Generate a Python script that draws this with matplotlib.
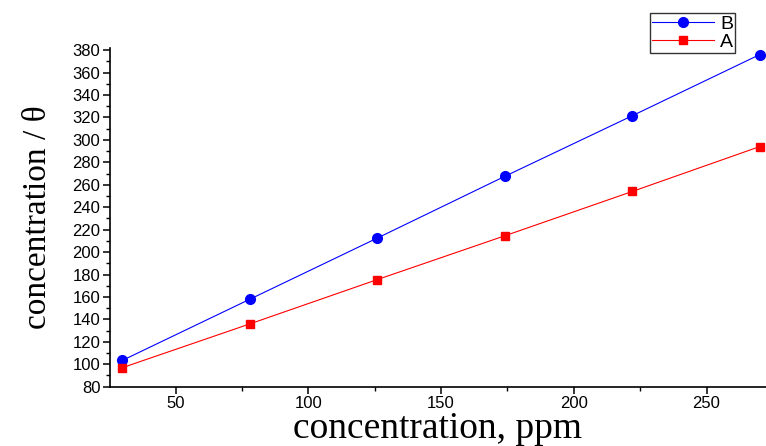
import matplotlib
matplotlib.use("Agg")
import matplotlib.pyplot as plt
from matplotlib.ticker import MultipleLocator

x = [30, 78, 126, 174, 222, 270]
b_vals = [103.5, 158, 212.5, 267.5, 321.5, 376]
a_vals = [97, 136, 175.5, 214.5, 254, 294]

fig = plt.figure(figsize=(7.66, 4.46), dpi=100)
W, H = 766, 446
ax = fig.add_axes([110 / W, 1 - 386.7 / H, (W - 110) / W, (386.7 - 47.9) / H])

ax.plot(x, b_vals, color="#0000FF", lw=0.8, marker="o", ms=7, label="B")
ax.plot(x, a_vals, color="#FF0000", lw=0.8, marker="s", ms=6, label="A")

ax.set_xlim(25.3, 272.4)
ax.set_ylim(80, 382)
ax.xaxis.set_major_locator(MultipleLocator(50))
ax.xaxis.set_minor_locator(MultipleLocator(25))
ax.yaxis.set_major_locator(MultipleLocator(20))
ax.yaxis.set_minor_locator(MultipleLocator(10))

for side in ("top", "right"):
    ax.spines[side].set_visible(False)
for side in ("left", "bottom"):
    ax.spines[side].set_linewidth(1.2)

ax.tick_params(which="major", direction="out", length=5, width=1.1,
               labelsize=12, pad=2)
ax.tick_params(which="minor", direction="out", length=3, width=1.0)
for lbl in ax.get_xticklabels() + ax.get_yticklabels():
    lbl.set_fontfamily("Liberation Sans")

ax.set_xlabel("concentration, ppm", fontfamily="Liberation Serif",
              fontsize=27, labelpad=0)
ax.set_ylabel("concentration / θ", fontfamily="Liberation Serif",
              fontsize=24, labelpad=14)

leg = fig.legend(loc="upper left", bbox_to_anchor=(650 / W, 1 - 13 / H),
                 frameon=True, fancybox=False, edgecolor="black",
                 prop={"family": "Liberation Sans", "size": 14},
                 handlelength=3.2, borderpad=0.1, labelspacing=0.05,
                 handletextpad=0.3, borderaxespad=0)
leg.get_frame().set_linewidth(1.0)

fig.savefig("out.png", dpi=100)
